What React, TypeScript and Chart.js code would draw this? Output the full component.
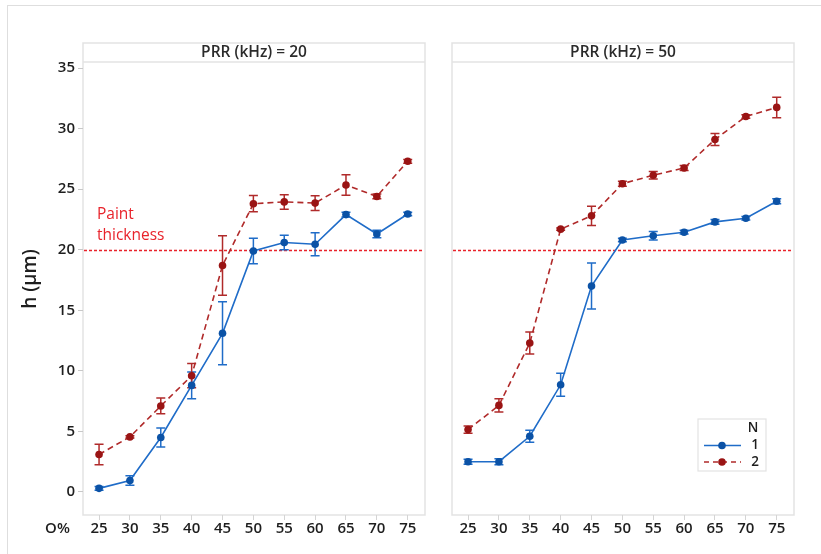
import React, { useEffect, useRef } from "react";
import { Chart, registerables } from "chart.js";

Chart.register(...registerables);

// ---- data ----
const oPercent = [25, 30, 35, 40, 45, 50, 55, 60, 65, 70, 75];
const yTicks = [0, 5, 10, 15, 20, 25, 30, 35];
const paintThickness = 20;

// PRR = 20 kHz
const prr20N1 = [0.3, 0.95, 4.5, 8.8, 13.1, 19.9, 20.6, 20.45, 22.9, 21.3, 22.95];
const prr20N1Err = [0.15, 0.4, 0.78, 1.1, 2.6, 1.05, 0.6, 0.95, 0.2, 0.3, 0.15];
const prr20N2 = [3.1, 4.55, 7.1, 9.6, 18.7, 23.8, 23.95, 23.85, 25.35, 24.4, 27.3];
const prr20N2Err = [0.85, 0.1, 0.65, 1.0, 2.45, 0.67, 0.6, 0.6, 0.85, 0.2, 0.15];

// PRR = 50 kHz
const prr50N1 = [2.5, 2.5, 4.6, 8.85, 17.0, 20.8, 21.15, 21.45, 22.3, 22.6, 24.0];
const prr50N1Err = [0.2, 0.25, 0.5, 0.95, 1.9, 0.15, 0.35, 0.15, 0.2, 0.15, 0.2];
const prr50N2 = [5.15, 7.15, 12.3, 21.7, 22.8, 25.45, 26.15, 26.75, 29.1, 31.0, 31.75];
const prr50N2Err = [0.3, 0.55, 0.9, 0.1, 0.8, 0.2, 0.3, 0.2, 0.5, 0.15, 0.85];

const FONT = "'Open Sans', 'Noto Sans', sans-serif";
const BLUE_LINE = "#1f6cc8";
const BLUE_MARK = "#0b52a6";
const RED_LINE = "#b02a2a";
const RED_MARK = "#9a1414";
const PAINT_RED = "#e8232b";
const FRAME = "#e3e3e3";

type Panel = {
  title: string;
  n1: number[];
  n1Err: number[];
  n2: number[];
  n2Err: number[];
  showY: boolean;
  width: number;
  padLeft: number;
  padRight: number;
};

const panels: Panel[] = [
  { title: "PRR (kHz) = 20", n1: prr20N1, n1Err: prr20N1Err, n2: prr20N2, n2Err: prr20N2Err, showY: true, width: 430, padLeft: 0, padRight: 5 },
  { title: "PRR (kHz) = 50", n1: prr50N1, n1Err: prr50N1Err, n2: prr50N2, n2Err: prr50N2Err, showY: false, width: 391, padLeft: 22, padRight: 27 },
];

const errorBarPlugin = {
  id: "errorBars",
  beforeDatasetsDraw(chart: any) {
    const { ctx } = chart;
    const xs = chart.scales.x;
    const ys = chart.scales.y;
    chart.data.datasets.forEach((ds: any) => {
      const errs: number[] = ds.errors;
      ctx.save();
      ctx.strokeStyle = ds.borderColor;
      ctx.lineWidth = 1.5;
      ctx.setLineDash([]);
      ds.data.forEach((p: any, i: number) => {
        const px = xs.getPixelForValue(p.x);
        const top = ys.getPixelForValue(p.y + errs[i]);
        const bot = ys.getPixelForValue(p.y - errs[i]);
        ctx.beginPath();
        ctx.moveTo(px, top);
        ctx.lineTo(px, bot);
        ctx.moveTo(px - 4.5, top);
        ctx.lineTo(px + 4.5, top);
        ctx.moveTo(px - 4.5, bot);
        ctx.lineTo(px + 4.5, bot);
        ctx.stroke();
      });
      ctx.restore();
    });
  },
};

const framePlugin = {
  id: "panelFrame",
  beforeDraw(chart: any) {
    const { ctx, chartArea } = chart;
    const { left, right, top, bottom } = chartArea;
    ctx.save();
    ctx.strokeStyle = FRAME;
    ctx.lineWidth = 1.5;
    ctx.strokeRect(left, 43, right - left, bottom - 43);
    ctx.beginPath();
    ctx.moveTo(left, top);
    ctx.lineTo(right, top);
    ctx.stroke();
    ctx.fillStyle = "#2b2b2b";
    ctx.font = `600 15.5px ${FONT}`;
    ctx.textAlign = "center";
    ctx.textBaseline = "middle";
    ctx.fillText(chart.options.plugins.panelFrame.title, (left + right) / 2, 52.5);
    ctx.restore();
  },
  beforeDatasetsDraw(chart: any) {
    const { ctx, chartArea } = chart;
    const y = Math.round(chart.scales.y.getPixelForValue(paintThickness)) + 0.5;
    ctx.save();
    ctx.strokeStyle = PAINT_RED;
    ctx.lineWidth = 1.5;
    ctx.setLineDash([3, 2]);
    ctx.beginPath();
    ctx.moveTo(chartArea.left + 1, y);
    ctx.lineTo(chartArea.right - 1, y);
    ctx.stroke();
    ctx.restore();
  },
};

const leftExtrasPlugin = {
  id: "leftExtras",
  afterDraw(chart: any) {
    if (!chart.options.plugins.leftExtras.enabled) return;
    const { ctx } = chart;
    ctx.save();
    ctx.fillStyle = PAINT_RED;
    ctx.font = `15.5px ${FONT}`;
    ctx.textAlign = "left";
    ctx.textBaseline = "middle";
    ctx.fillText("Paint", 97, 215);
    ctx.fillText("thickness", 97, 236);
    ctx.fillStyle = "#1e1e1e";
    ctx.font = `600 15px ${FONT}`;
    ctx.textAlign = "center";
    ctx.fillText("O%", 57.5, 528.5);
    ctx.translate(31, 279);
    ctx.rotate(-Math.PI / 2);
    ctx.font = `600 19px ${FONT}`;
    ctx.fillText("h (µm)", 0, 0);
    ctx.restore();
  },
};

const legendPlugin = {
  id: "nLegend",
  afterDraw(chart: any) {
    if (!chart.options.plugins.nLegend.enabled) return;
    const { ctx } = chart;
    const ox = -430; // canvas offset of right panel
    ctx.save();
    ctx.translate(ox, 0);
    ctx.strokeStyle = FRAME;
    ctx.lineWidth = 1.2;
    ctx.fillStyle = "#ffffff";
    ctx.fillRect(698, 419, 68, 52);
    ctx.strokeRect(698, 419, 68, 52);
    ctx.fillStyle = "#1e1e1e";
    ctx.font = `600 13.5px ${FONT}`;
    ctx.textAlign = "center";
    ctx.textBaseline = "middle";
    ctx.fillText("N", 753, 428);
    ctx.fillText("1", 755, 445.5);
    ctx.fillText("2", 755, 462);
    // row 1
    ctx.strokeStyle = BLUE_LINE;
    ctx.lineWidth = 1.5;
    ctx.beginPath();
    ctx.moveTo(704, 445.5);
    ctx.lineTo(741, 445.5);
    ctx.stroke();
    ctx.fillStyle = BLUE_MARK;
    ctx.beginPath();
    ctx.arc(722, 445.5, 3.8, 0, Math.PI * 2);
    ctx.fill();
    // row 2
    ctx.strokeStyle = RED_LINE;
    ctx.setLineDash([5, 4]);
    ctx.beginPath();
    ctx.moveTo(704, 462);
    ctx.lineTo(741, 462);
    ctx.stroke();
    ctx.setLineDash([]);
    ctx.fillStyle = RED_MARK;
    ctx.beginPath();
    ctx.arc(722, 462, 3.8, 0, Math.PI * 2);
    ctx.fill();
    ctx.restore();
  },
};

function PanelChart({ panel, index }: { panel: Panel; index: number }) {
  const ref = useRef<HTMLCanvasElement | null>(null);
  useEffect(() => {
    if (!ref.current) return;
    const tickFont = { family: FONT, size: 15, weight: 600 as any };
    const chart = new Chart(ref.current, {
      type: "line",
      data: {
        datasets: [
          {
            label: "1",
            data: oPercent.map((x, i) => ({ x, y: panel.n1[i] })),
            errors: panel.n1Err,
            borderColor: BLUE_LINE,
            backgroundColor: BLUE_MARK,
            pointBackgroundColor: BLUE_MARK,
            pointBorderColor: BLUE_MARK,
            pointRadius: 3.8,
            pointBorderWidth: 0,
            borderWidth: 1.6,
            tension: 0,
          } as any,
          {
            label: "2",
            data: oPercent.map((x, i) => ({ x, y: panel.n2[i] })),
            errors: panel.n2Err,
            borderColor: RED_LINE,
            backgroundColor: RED_MARK,
            pointBackgroundColor: RED_MARK,
            pointBorderColor: RED_MARK,
            pointRadius: 3.8,
            pointBorderWidth: 0,
            borderWidth: 1.6,
            borderDash: [6, 4],
            tension: 0,
          } as any,
        ],
      },
      options: {
        responsive: false,
        animation: false,
        layout: { padding: { left: panel.padLeft, right: panel.padRight, top: 62, bottom: 0 } },
        plugins: {
          legend: { display: false },
          tooltip: { enabled: false },
          panelFrame: { title: panel.title },
          leftExtras: { enabled: index === 0 },
          nLegend: { enabled: index === 1 },
        } as any,
        scales: {
          x: {
            type: "linear",
            min: 22.4,
            max: 77.8,
            afterBuildTicks: (axis: any) => {
              axis.ticks = oPercent.map((v) => ({ value: v }));
            },
            afterFit: (axis: any) => {
              axis.height = 39;
            },
            grid: { display: true, drawOnChartArea: false, drawTicks: true, tickLength: 5, color: "#d4d4d4" },
            border: { display: false },
            ticks: { padding: 0, color: "#1e1e1e", font: tickFont, maxRotation: 0, autoSkip: false },
          },
          y: {
            type: "linear",
            display: panel.showY,
            min: -1.9,
            max: 35.5,
            afterBuildTicks: (axis: any) => {
              axis.ticks = yTicks.map((v) => ({ value: v }));
            },
            afterFit: (axis: any) => {
              axis.width = panel.showY ? 83 : 0;
            },
            grid: { display: true, drawOnChartArea: false, drawTicks: true, tickLength: 5, color: "#c8c8c8" },
            border: { display: false },
            ticks: { padding: 3, color: "#1e1e1e", font: tickFont, autoSkip: false },
          },
        },
      },
      plugins: [framePlugin, errorBarPlugin, leftExtrasPlugin, legendPlugin],
    });
    return () => chart.destroy();
  }, [panel, index]);
  return (
    <canvas
      ref={ref}
      width={panel.width}
      height={554}
      style={{ position: "absolute", left: index === 0 ? 0 : 430, top: 0, width: panel.width, height: 554 }}
    />
  );
}

export default function App() {
  return (
    <div style={{ position: "fixed", left: 0, top: 0, width: 821, height: 554, overflow: "hidden", background: "#fff" }}>
      <div
        style={{
          position: "absolute",
          left: 7,
          top: 5,
          width: 900,
          height: 700,
          borderTop: "1px solid #dedede",
          borderLeft: "1px solid #dedede",
        }}
      />
      {panels.map((p, i) => (
        <PanelChart key={i} panel={p} index={i} />
      ))}
    </div>
  );
}
